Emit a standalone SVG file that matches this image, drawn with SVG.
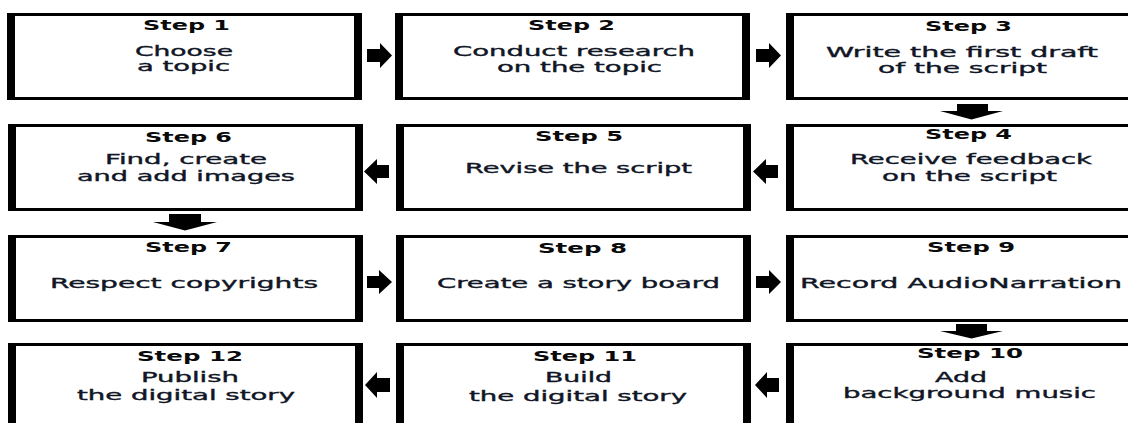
<svg xmlns="http://www.w3.org/2000/svg" width="1128" height="423" viewBox="0 0 1128 423">
  <style>
    .frame { fill: #ffffff; stroke: #000000; stroke-width: 3; }
    .side { fill: #000000; }
    .title { font-family: "DejaVu Sans", Verdana, sans-serif; font-weight: bold; font-size: 14.5px; fill: #0a0a0a; }
    .body { font-family: "DejaVu Sans", Verdana, sans-serif; font-size: 14px; fill: #101626; stroke: #101626; stroke-width: 0.35; }
    .arrow { fill: #000000; }
  </style>
  <defs>
    <!-- box with heavy left/right sides, 355 x 87 -->
    <g id="box">
      <rect class="frame" x="1.5" y="1.5" width="352" height="84"/>
      <rect class="side" x="0" y="0" width="8" height="87"/>
      <rect class="side" x="347" y="0" width="8" height="87"/>
    </g>
  </defs>

  <rect width="1128" height="423" fill="#ffffff"/>

  <!-- Row 1 -->
  <g id="step1">
    <use href="#box" x="7" y="13"/>
    <text class="title" x="143" y="30" textLength="87" lengthAdjust="spacingAndGlyphs">Step 1</text>
    <text class="body" x="135" y="56" textLength="98" lengthAdjust="spacingAndGlyphs">Choose</text>
    <text class="body" x="137" y="71" textLength="93" lengthAdjust="spacingAndGlyphs">a topic</text>
  </g>
  <g id="step2">
    <use href="#box" x="395" y="13"/>
    <text class="title" x="528" y="30" textLength="87" lengthAdjust="spacingAndGlyphs">Step 2</text>
    <text class="body" x="453" y="56" textLength="242" lengthAdjust="spacingAndGlyphs">Conduct research</text>
    <text class="body" x="497" y="72" textLength="165" lengthAdjust="spacingAndGlyphs">on the topic</text>
  </g>
  <g id="step3">
    <use href="#box" x="786" y="13"/>
    <text class="title" x="925" y="30.5" textLength="87" lengthAdjust="spacingAndGlyphs">Step 3</text>
    <text class="body" x="826" y="56.5" textLength="272" lengthAdjust="spacingAndGlyphs">Write the first draft</text>
    <text class="body" x="878" y="72.5" textLength="169" lengthAdjust="spacingAndGlyphs">of the script</text>
  </g>

  <!-- Row 2 -->
  <g id="step4">
    <use href="#box" x="786" y="124"/>
    <text class="title" x="925" y="139" textLength="87" lengthAdjust="spacingAndGlyphs">Step 4</text>
    <text class="body" x="850" y="164" textLength="242" lengthAdjust="spacingAndGlyphs">Receive feedback</text>
    <text class="body" x="882" y="181" textLength="175" lengthAdjust="spacingAndGlyphs">on the script</text>
  </g>
  <g id="step5">
    <use href="#box" x="396" y="124"/>
    <text class="title" x="535" y="140.5" textLength="88" lengthAdjust="spacingAndGlyphs">Step 5</text>
    <text class="body" x="465" y="173" textLength="227" lengthAdjust="spacingAndGlyphs">Revise the script</text>
  </g>
  <g id="step6">
    <use href="#box" x="8" y="124"/>
    <text class="title" x="145" y="141.5" textLength="87" lengthAdjust="spacingAndGlyphs">Step 6</text>
    <text class="body" x="105" y="164" textLength="162" lengthAdjust="spacingAndGlyphs">Find, create</text>
    <text class="body" x="77" y="181" textLength="218" lengthAdjust="spacingAndGlyphs">and add images</text>
  </g>

  <!-- Row 3 -->
  <g id="step7">
    <use href="#box" x="8" y="235"/>
    <text class="title" x="145" y="252" textLength="87" lengthAdjust="spacingAndGlyphs">Step 7</text>
    <text class="body" x="50" y="288" textLength="268" lengthAdjust="spacingAndGlyphs">Respect copyrights</text>
  </g>
  <g id="step8">
    <use href="#box" x="396" y="235"/>
    <text class="title" x="538" y="253" textLength="89" lengthAdjust="spacingAndGlyphs">Step 8</text>
    <text class="body" x="437" y="288" textLength="283" lengthAdjust="spacingAndGlyphs">Create a story board</text>
  </g>
  <g id="step9">
    <use href="#box" x="786" y="235"/>
    <text class="title" x="927" y="252" textLength="88" lengthAdjust="spacingAndGlyphs">Step 9</text>
    <text class="body" x="800" y="288" textLength="322" lengthAdjust="spacingAndGlyphs">Record AudioNarration</text>
  </g>

  <!-- Row 4 -->
  <g id="step10">
    <use href="#box" x="786" y="343"/>
    <text class="title" x="917" y="358" textLength="106" lengthAdjust="spacingAndGlyphs">Step 10</text>
    <text class="body" x="935" y="382" textLength="52" lengthAdjust="spacingAndGlyphs">Add</text>
    <text class="body" x="843" y="398" textLength="253" lengthAdjust="spacingAndGlyphs">background music</text>
  </g>
  <g id="step11">
    <use href="#box" x="396" y="343"/>
    <text class="title" x="533" y="360.5" textLength="104" lengthAdjust="spacingAndGlyphs">Step 11</text>
    <text class="body" x="545" y="382" textLength="67" lengthAdjust="spacingAndGlyphs">Build</text>
    <text class="body" x="469" y="401" textLength="218" lengthAdjust="spacingAndGlyphs">the digital story</text>
  </g>
  <g id="step12">
    <use href="#box" x="8" y="343"/>
    <text class="title" x="137" y="360.5" textLength="106" lengthAdjust="spacingAndGlyphs">Step 12</text>
    <text class="body" x="141" y="381.5" textLength="98" lengthAdjust="spacingAndGlyphs">Publish</text>
    <text class="body" x="77" y="400" textLength="218" lengthAdjust="spacingAndGlyphs">the digital story</text>
  </g>

  <!-- Block arrows between steps -->
  <g id="connectors" class="arrow">
    <!-- row 1, pointing right -->
    <polygon points="367,49 380,49 380,43 392,55.5 380,68 380,62 367,62"/>
    <polygon points="756,49 769,49 769,43 781,55.5 769,68 769,62 756,62"/>
    <!-- step 3 down to step 4 -->
    <polygon points="957,104 988,104 988,111 1003,111 971.5,119.5 940,111 957,111"/>
    <!-- row 2, pointing left -->
    <polygon points="778,165 766,165 766,159 753,171.5 766,184 766,178 778,178"/>
    <polygon points="389,165 377,165 377,159 364,171.5 377,184 377,178 389,178"/>
    <!-- step 6 down to step 7 -->
    <polygon points="169,214 201,214 201,222 217,222 185,230.5 153,222 169,222"/>
    <!-- row 3, pointing right -->
    <polygon points="367,276 379,276 379,270 392,282 379,294 379,288 367,288"/>
    <polygon points="756,276 769,276 769,270 781,282 769,294 769,288 756,288"/>
    <!-- step 9 down to step 10 -->
    <polygon points="956,324 987,324 987,331 1003,331 971.5,338.5 940,331 956,331"/>
    <!-- row 4, pointing left -->
    <polygon points="779,378 767,378 767,372 755,385 767,398 767,392 779,392"/>
    <polygon points="390,378 377,378 377,372 365,385 377,398 377,392 390,392"/>
  </g>
</svg>
